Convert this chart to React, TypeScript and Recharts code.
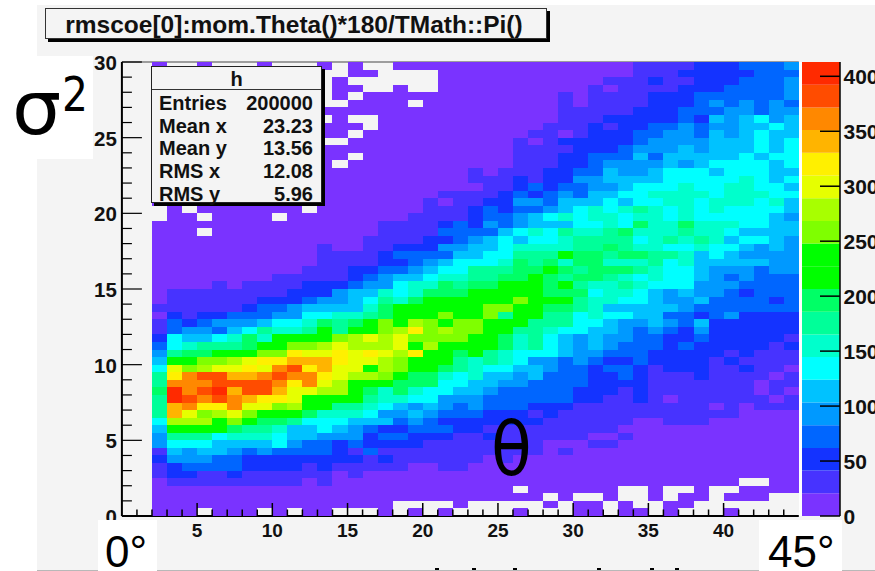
import { ScatterChart, Scatter, XAxis, YAxis, ReferenceLine, BarChart, Bar } from 'recharts';

// ROOT TH2 "colz" drawing of sigma^2 vs theta. One char per bin: a..t = colour level, '.' = empty bin.
// Rows run from sigma2 = 0 upward. Split in three blocks by theta: 2-17, 17-33, 33-45.
const rowsLow = [
  'aaa.aaa.a.aa...', 'aaaaaaaaaaaaaaa', 'aaaaaaaaaaaaaaa', 'aaaaaaaaaaaaaaa', 'abbbbbbbbbabaaa',
  'bccbbcbbbbbbaba', 'bcddddccccbcbbb', 'ceeeddccccccccb', 'bfeffededdddcbd', 'egggffffgeddcdc',
  'eiiighhhgffeeec', 'fkkkkjiihffgfed', 'gnnnkmkjjigggff', 'iqomnomkkkjhhhg', 'iqrpproomnkkiih',
  'itsrsrqppokkkki', 'jtrstqssqoonnkj', 'irrrssssrpronkk', 'iprssqqrsrrponn', 'gomnooporspqook',
  'fkkmmnoppqqqpoo', 'eijjkkkmmpoopop', 'dghiiijkkmmnonn', 'cgffghjhkkkkmno', 'bdeedfgihhikikk',
  'bdcdeeefgghjijk', 'acbccdddeegghhi', 'bbbbbbcddeffffh', 'abbbbbbcccdeefg', 'abbbbbbbbccceff',
  'aaaababbbbcccde', 'aaaaaaaabbbbbcd', 'aaaaaaaaaabbbcc', 'aaaaaaaaaaabbbb', 'aaaaaaaaaaabbbb',
  'aaaaaaaaaaabaab', 'aaaaaaaaaaaaaab', 'aaa.aaaaaaaaaaa', 'aaaaaaaaaaaaaaa', '.aa.aaaa.aaaaaa',
  '.a.aaaaaaa.aaaa', 'aaaaaaaaaaaaaaa', 'aaaaaaaaaaaaaaa', 'aaaaaaaaaaaaaaa', 'aaaaaaaaaaaaaaa',
  'aaaaaaaaaaaaaaa', 'aaaaaaaaaaaa.aa', 'aaaaaaaaaaaaa.a', 'aaaaaaaaaaaaaaa', 'aaaaaaaaaaa..aa',
  'aaaaaaaaaaaaa.a', 'aaaaaaaaaaaaaa.', 'aaaaaaaaaaa.a..', 'aaaaaaaaaaaaaaa', 'aaaaaaaaaaa..aa',
  'aaaaaaaaaaa.a.a', 'aaaaaaaaaaa.aa.', 'aaaaaaaaaaa.a..', 'aaaaaaaaaaa..aa', 'a..a...a...a.a.',
];
const rowsMid = [
  'a.a.a....a...aa.', 'a....a.....a.aa.', 'aaaaaaaaaaa.a..a', 'aaaaaaaaa.aaaaaa', 'aaaaaaaaaaaaaaaa',
  'aaaaaaaaaaaaaaaa', 'bbaabbaaaaaaaaaa', 'cbbbbbbabaaaaaaa', 'bbbbbbbbbbbabaaa', 'cccbbbbbbbbaaabb',
  'ddcccbbcbbbbbbaa', 'ccdddccbbbbbbbbb', 'fdedcccccccbbbbb', 'eefedddcccbcbbbb', 'gfefededddcccbbb',
  'hhggeeeddddddccb', 'hjhggffedddddccc', 'kjjjggffeeddddcc', 'mkjjhghffefdddcc', 'nmkkjihggffeddcd',
  'nmkkkihihgeededc', 'onpkkjkihgggfeed', 'noknkkkkjhigfefe', 'nommmmkkjhigfefe', 'mnpmnmmkkiihggff',
  'mknmkmmkkkiiiggf', 'jkkkmkkmikkiighg', 'jkkkkkkmmkkjjihf', 'ihjkkkkkkmkkkihh', 'hghjjjkkkkkjjjgh',
  'eghhjijjkkkjkihh', 'effghhiijjkjijji', 'ddefggiiijjkjijj', 'ccdefggghjijhjjh', 'cddddffggiiikjji',
  'bccceeffghhhhiij', 'bbbccdefgfgghiii', 'bbbbddddfghgihhi', 'bbbbcdcedefffggh', 'aabbbbcddefghghh',
  'aaabbbcdcddefghg', 'aaababbcceedfffg', 'aaaabbbbcdcdedff', 'aaaaaaabbcdcddee', 'aaaaaabbbcbcceef',
  'aaaaaababbbccddf', 'aaaaaaaaabbbccde', 'aaaaaaaaabbbccdd', 'aaaaaaaaabbbbccc', 'aaaaaaaaababcccc',
  'aaaaaaaaaabbabcc', 'aaaaaaaaaaabbbcb', 'aaaaaaaaaaaabbbc', 'aaaaaaaaaaaabbbb', 'aa.aaaaaaaaababb',
  'aaaaaaaaaaaababb', '.a..aaaaaaaaaaba', '....aaaaaaaaaaab', '....aaaaaaaaaaaa', '.aaaaaaaaaaaaaaa',
];
const rowsHigh = [
  'aa.a...a....', 'a..aa.......', '..a.aa.aaa..', '..a..a..aaaa', 'aaaaaaaa..aa',
  'aaaaaaaaaaaa', 'aaaaaaaaaaaa', 'aaaaaaaaaaaa', 'aaaaaaaaaaaa', 'aaaaaaaaaaaa',
  'baaaaaaaaaaa', 'aaaaaaaaaaaa', 'baabbbaaaaaa', 'bbbbbbbbaaaa', 'bbbbbbababbb',
  'bcbabbbbbbab', 'bcbbbbbbbaba', 'ccbbbbbbbabb', 'dcbbbcbbbbab', 'dcbcccbbcbba',
  'cdccccbcbbbb', 'ddcccccbcbbb', 'dddcdcccccbc', 'eddccdcccccb', 'ededcecccccc',
  'eefedfcccccc', 'gffddcdecccc', 'ffffeddddddd', 'ggfeefddddcd', 'hgfefeedcddd',
  'ihgggeeedddd', 'hghggfededdd', 'jihggfeeedee', 'hhighfffffee', 'jjiihfgfeeee',
  'ihhgghggfefe', 'ighihihfggfe', 'jhhhihhgffff', 'gjhhjhhhggff', 'ghhghgggggfe',
  'hihghghggggf', 'fgghhghhhghf', 'gghhhhghhhgg', 'fggghgghhggf', 'fffggggghgfg',
  'eefgggfgggff', 'eeefefggggfg', 'dfdfffffgfgg', 'deeefefffgfg', 'cdeeeefffgfg',
  'cddeedfefgff', 'ccddedeeffgf', 'ccccdcfefgef', 'bcccdddeedee', 'bbcccdededed',
  'bbcccdddddde', 'bbbbcccdddde', 'bbcbbcccddde', 'abbbcccccddd', 'abbbbcccddde',
];

const palette = [
  '#7a33ff', '#4733ff', '#1433ff', '#0066ff', '#0099ff', '#00c2ff', '#00ffff', '#00ffcc', '#00ff99', '#00ff66',
  '#00ff00', '#00ff00', '#7fff00', '#a8ff00', '#e6ff00', '#fff000', '#ffb400', '#ff8800', '#ff4c00', '#ff2a00',
];

const LEVEL_STEP = 20.65;
const FIRST_THETA = 2;
const THETA_BIN = 1;
const SIGMA_BIN = 0.5;

const thetaTicks = [1, 2, 3, 4, 5, 6, 7, 8, 9, 10, 11, 12, 13, 14, 15, 16, 17, 18, 19, 20, 21, 22, 23, 24, 25, 26, 27, 28, 29, 30, 31, 32, 33, 34, 35, 36, 37, 38, 39, 40, 41, 42, 43, 44];
const sigmaTicks = [0, 1, 2, 3, 4, 5, 6, 7, 8, 9, 10, 11, 12, 13, 14, 15, 16, 17, 18, 19, 20, 21, 22, 23, 24, 25, 26, 27, 28, 29, 30];
const countTicks = [0, 50, 100, 150, 200, 250, 300, 350, 400];

const statLabels = ['Entries', 'Mean x', 'Mean y', 'RMS x', 'RMS y'];
const statValues = ['200000', '23.23', '13.56', '12.08', '5.96'];

// tops of the clipped x title that peek in at the very bottom of the image
const clippedTitleMarks = [435, 472, 513, 597, 650, 675];

const cells: { theta: number; sigma: number; count: number }[] = [];
rowsLow.forEach((low, r) => {
  const row = low + rowsMid[r] + rowsHigh[r];
  row.split('').forEach((ch, c) => {
    if (ch === '.') return;
    cells.push({
      theta: FIRST_THETA + (c + 0.5) * THETA_BIN,
      sigma: (r + 0.5) * SIGMA_BIN,
      count: (ch.charCodeAt(0) - 97 + 0.5) * LEVEL_STEP,
    });
  });
});

const barRow: Record<string, number | string> = { name: 'z' };
palette.forEach((_, i) => {
  barRow['l' + i] = LEVEL_STEP;
});

const FONT = '"Liberation Sans", Arial, sans-serif';
const W = 875;
const H = 571;
const PLOT = { left: 121.9, right: 798.8, top: 62, bottom: 516 };
const CELL_W = (PLOT.right - PLOT.left) / 45;
const CELL_H = (PLOT.bottom - PLOT.top) / 60;

function BinCell(props: any) {
  const { cx, cy, payload } = props;
  return (
    <rect
      x={cx - CELL_W / 2}
      y={cy - CELL_H / 2}
      width={CELL_W}
      height={CELL_H}
      fill={palette[Math.floor(payload.count / LEVEL_STEP)]}
      shapeRendering="crispEdges"
    />
  );
}

function ThetaTick({ x, y, payload }: any) {
  const major = payload.value % 5 === 0;
  return (
    <g>
      <line x1={x} x2={x} y1={PLOT.bottom} y2={PLOT.bottom - (major ? 13 : 6.5)} stroke="#000" strokeWidth={1.5} />
      {major && (
        <text x={x} y={PLOT.bottom + 21} textAnchor="middle" fontFamily={FONT} fontWeight="bold" fontSize={19} fill="#111">
          {payload.value}
        </text>
      )}
    </g>
  );
}

function SigmaTick({ y, payload }: any) {
  const major = payload.value % 5 === 0;
  return (
    <g>
      <line x1={PLOT.left} x2={PLOT.left + (major ? 20 : 10)} y1={y} y2={y} stroke="#000" strokeWidth={1.2} />
      {major && (
        <text x={PLOT.left - 5} y={y + 8} textAnchor="end" fontFamily={FONT} fontWeight="bold" fontSize={20.5} fill="#111">
          {payload.value}
        </text>
      )}
    </g>
  );
}

function CountTick({ y, payload }: any) {
  return (
    <g>
      <line x1={18} x2={38} y1={y} y2={y} stroke="#000" strokeWidth={1.5} />
      <text x={41.5} y={y + 8} fontFamily={FONT} fontWeight="bold" fontSize={21} fill="#111">
        {payload.value}
      </text>
    </g>
  );
}

function Patch({ left, top, width, height, bg = '#fff' }: any) {
  return <div style={{ position: 'absolute', left, top, width, height, background: bg }} />;
}

function Overlay({ left, top, size, children, family = '"DejaVu Sans"', scaleX = 1 }: any) {
  return (
    <div style={{ position: 'absolute', left, top, fontFamily: family, fontSize: size, lineHeight: 1, color: '#000', whiteSpace: 'nowrap', transform: `scaleX(${scaleX})`, transformOrigin: 'left top' }}>
      {children}
    </div>
  );
}

export default function App() {
  return (
    <div style={{ position: 'absolute', left: 0, top: 0, width: W, height: H, overflow: 'hidden', background: '#fff' }}>
      <Patch left={37} top={5} width={W - 37} height={565} bg="#f4f4f4" />
      <Patch left={37} top={570} width={W - 37} height={1} bg="#b8b8b8" />
      {clippedTitleMarks.map((x) => (
        <Patch key={x} left={x} top={568} width={4} height={2} bg="#000" />
      ))}

      <div style={{ position: 'absolute', left: 0, top: 0 }}>
        <ScatterChart width={W} height={H} margin={{ left: PLOT.left - 1, right: W - PLOT.right, top: PLOT.top, bottom: H - PLOT.bottom - 1 }}>
          <Scatter data={cells} dataKey="sigma" shape={BinCell} isAnimationActive={false} />
          <ReferenceLine y={30} stroke="#808080" strokeWidth={1.5} />
          <XAxis
            type="number"
            dataKey="theta"
            domain={[0, 45]}
            ticks={thetaTicks}
            interval={0}
            height={1}
            tickSize={0}
            tickMargin={0}
            tickLine={false}
            tick={ThetaTick}
            axisLine={{ stroke: '#000', strokeWidth: 2 }}
          />
          <YAxis
            type="number"
            dataKey="sigma"
            domain={[0, 30]}
            ticks={sigmaTicks}
            interval={0}
            width={1}
            tickSize={0}
            tickMargin={0}
            tickLine={false}
            tick={SigmaTick}
            axisLine={{ stroke: '#000', strokeWidth: 2 }}
          />
        </ScatterChart>
      </div>

      <Patch left={799} top={62} width={3} height={454} />

      <div style={{ position: 'absolute', left: 802, top: 0 }}>
        <BarChart width={73} height={H} data={[barRow]} barCategoryGap={0} margin={{ left: 0, right: 34, top: PLOT.top, bottom: H - PLOT.bottom }}>
          <XAxis dataKey="name" hide />
          {palette.map((color, i) => (
            <Bar key={color + i} dataKey={'l' + i} stackId="z" fill={color} isAnimationActive={false} />
          ))}
          <YAxis
            orientation="right"
            type="number"
            domain={[0, LEVEL_STEP * palette.length]}
            ticks={countTicks}
            interval={0}
            width={1}
            tickSize={0}
            tickMargin={0}
            tickLine={false}
            tick={CountTick}
            axisLine={{ stroke: '#000', strokeWidth: 1.5 }}
          />
        </BarChart>
      </div>

      {/* title pave */}
      <div style={{ position: 'absolute', left: 45, top: 8, width: 502, height: 31, boxSizing: 'border-box', paddingRight: 4, background: '#f4f4f4', border: '1px solid #333', boxShadow: '3px 3px 0 #000', fontFamily: FONT, fontWeight: 'bold', fontSize: 24.5, lineHeight: '31px', textAlign: 'center', color: '#111', whiteSpace: 'nowrap' }}>
        rmscoe[0]:mom.Theta()*180/TMath::Pi()
      </div>

      {/* stats box */}
      <div style={{ position: 'absolute', left: 151, top: 66, width: 171, height: 137, boxSizing: 'border-box', background: '#f4f4f4', border: '1px solid #222', boxShadow: '3px 3px 0 #000', fontFamily: FONT, fontWeight: 'bold', fontSize: 20, color: '#111' }}>
        <div style={{ height: 22, lineHeight: '24px', textAlign: 'center', borderBottom: '1.5px solid #333' }}>h</div>
        <div style={{ padding: '2px 8px 0 7px' }}>
          {statLabels.map((label, i) => (
            <div key={label} style={{ display: 'flex', justifyContent: 'space-between', height: 22.7, lineHeight: '22.7px' }}>
              <span>{label}</span>
              <span>{statValues[i]}</span>
            </div>
          ))}
        </div>
      </div>

      {/* hand pasted labels */}
      <Patch left={0} top={56} width={93} height={103} />
      <Overlay left={12} top={71} size={74} scaleX={1.05}>σ</Overlay>
      <Overlay left={62} top={70} size={48} scaleX={0.85}>2</Overlay>
      <Overlay left={491} top={412} size={74} scaleX={0.9}>θ</Overlay>
      <Patch left={98} top={520} width={59} height={51} />
      <Overlay left={105} top={530} size={44} family={FONT}>0°</Overlay>
      <Patch left={759} top={520} width={83} height={51} />
      <Overlay left={768} top={530} size={44} family={FONT}>45°</Overlay>
    </div>
  );
}
